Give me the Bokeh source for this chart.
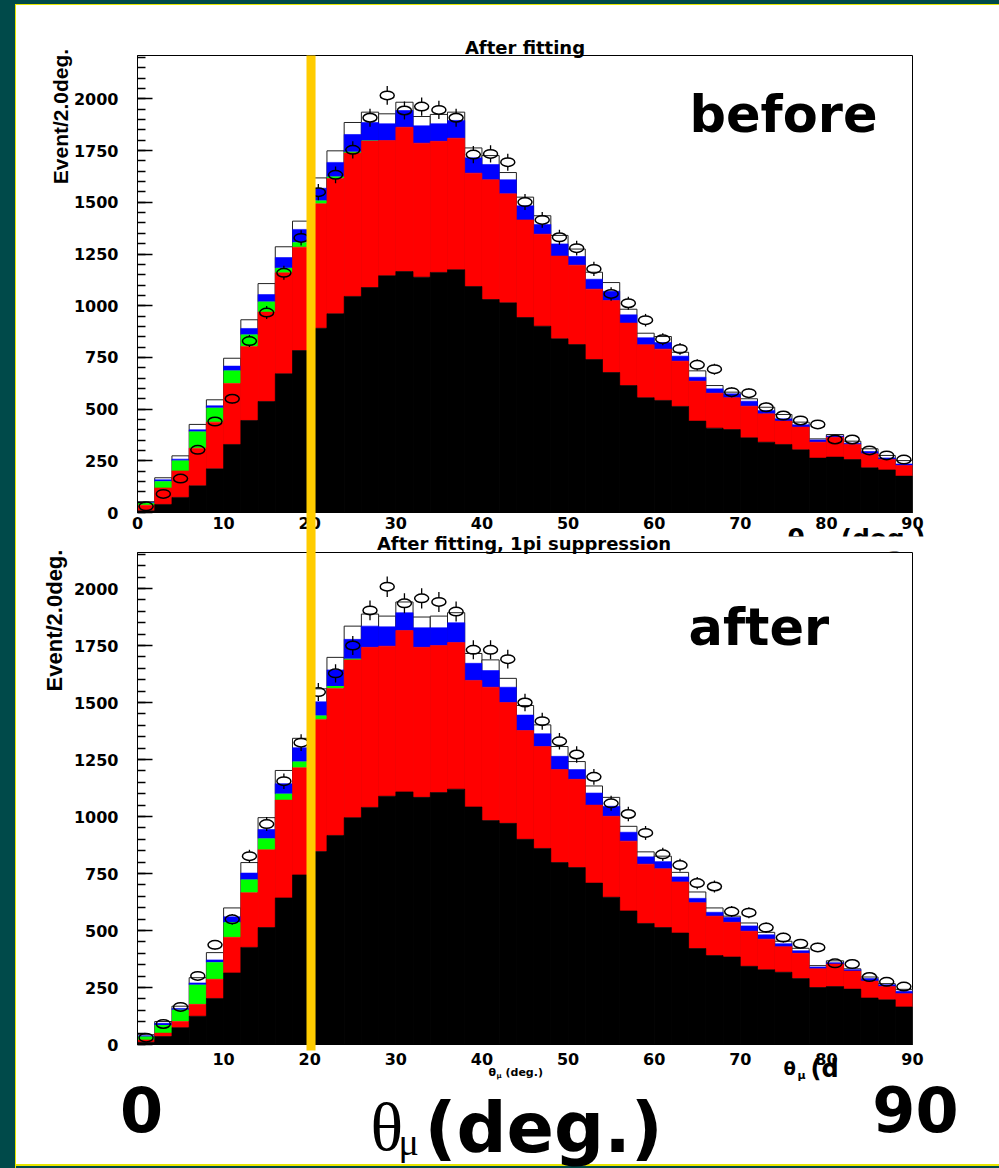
import numpy as np
from bokeh.plotting import figure
from bokeh.models import Label, BoxAnnotation, FixedTicker, Div, Range1d
from bokeh.layouts import column, row
from bokeh.embed import file_html
from bokeh.resources import INLINE

# ---------------- data (theta_mu histograms, 2 deg bins, 0..90 deg) ----------------
bin_lo = np.arange(0, 90, 2)
bin_hi = bin_lo + 2

# "before" panel: cumulative stack levels (black, +red, +green, +blue, total MC) and data
before_black = [8, 39, 73, 129, 211, 329, 445, 537, 671, 783, 891, 961, 1045, 1088, 1145, 1165, 1138, 1161, 1174, 1093,
                1030, 1014, 943, 901, 840, 812, 740, 677, 614, 555, 542, 513, 442, 408, 401, 361, 340, 329, 303, 263,
                268, 256, 216, 206, 176]
before_red = [35, 119, 201, 311, 437, 624, 803, 969, 1159, 1283, 1493, 1615, 1738, 1796, 1799, 1863, 1786, 1795, 1810, 1641,
              1609, 1541, 1415, 1346, 1240, 1196, 1080, 1025, 916, 811, 790, 732, 635, 577, 555, 514, 477, 442, 413, 340,
              364, 329, 284, 256, 227]
before_green = [47, 151, 251, 392, 506, 687, 861, 1020, 1183, 1307, 1509, 1625, 1744, 1799, 1799, 1863, 1786, 1795, 1810, 1641,
                1609, 1541, 1415, 1346, 1240, 1196, 1080, 1025, 916, 811, 790, 732, 635, 577, 555, 514, 477, 442, 413, 340,
                364, 329, 284, 256, 227]
before_blue = [49, 158, 258, 400, 516, 708, 890, 1054, 1233, 1369, 1568, 1693, 1828, 1886, 1880, 1944, 1870, 1880, 1896, 1715,
               1683, 1609, 1483, 1393, 1299, 1238, 1128, 1070, 956, 845, 822, 756, 654, 598, 574, 538, 493, 453, 424, 351,
               370, 335, 295, 264, 235]
before_total = [52, 168, 274, 426, 545, 746, 932, 1107, 1285, 1409, 1618, 1749, 1886, 1936, 1928, 1984, 1915, 1925, 1936, 1763,
                1726, 1644, 1525, 1435, 1340, 1274, 1162, 1112, 983, 867, 851, 775, 685, 614, 582, 550, 509, 474, 437, 356,
                377, 345, 308, 276, 251]
before_data = [30, 90, 164, 303, 440, 550, 829, 967, 1159, 1328, 1549, 1633, 1754, 1909, 2017, 1944, 1963, 1947, 1909, 1731,
               1734, 1694, 1501, 1415, 1331, 1278, 1178, 1057, 1012, 930, 838, 791, 714, 693, 582, 577, 509, 469, 445, 426,
               353, 353, 300, 276, 256]

# "after" panel (1pi suppression)
after_black = [10, 35, 74, 124, 202, 314, 426, 513, 643, 744, 846, 917, 995, 1040, 1089, 1108, 1084, 1105, 1120, 1042,
               982, 970, 900, 860, 798, 776, 708, 646, 586, 531, 513, 489, 421, 390, 384, 343, 328, 317, 289, 250,
               254, 243, 204, 196, 165]
after_red = [20, 50, 101, 176, 286, 470, 666, 854, 1072, 1214, 1426, 1562, 1687, 1742, 1747, 1816, 1742, 1750, 1763, 1597,
             1567, 1500, 1377, 1307, 1206, 1163, 1050, 1001, 892, 791, 771, 713, 622, 563, 536, 497, 462, 429, 400, 332,
             353, 322, 278, 254, 223]
after_green = [35, 86, 152, 262, 361, 536, 724, 904, 1100, 1241, 1443, 1572, 1692, 1742, 1747, 1816, 1742, 1750, 1763, 1597,
               1567, 1500, 1377, 1307, 1206, 1163, 1050, 1001, 892, 791, 771, 713, 622, 563, 536, 497, 462, 429, 400, 332,
               353, 322, 278, 254, 223]
after_blue = [38, 93, 158, 270, 371, 560, 752, 943, 1144, 1302, 1503, 1643, 1777, 1835, 1832, 1894, 1828, 1828, 1850, 1672,
              1640, 1567, 1445, 1363, 1264, 1206, 1103, 1045, 931, 823, 802, 735, 641, 580, 557, 520, 481, 442, 411, 340,
              359, 328, 289, 262, 234]
after_total = [43, 101, 168, 293, 403, 599, 798, 995, 1202, 1343, 1560, 1698, 1835, 1888, 1879, 1941, 1875, 1879, 1894, 1715,
               1687, 1606, 1487, 1402, 1307, 1241, 1134, 1084, 957, 845, 826, 755, 669, 599, 563, 533, 492, 453, 422, 346,
               367, 332, 296, 267, 242]
after_data = [30, 90, 165, 301, 437, 549, 826, 967, 1155, 1324, 1546, 1628, 1750, 1904, 2008, 1935, 1957, 1941, 1899, 1731,
              1731, 1690, 1500, 1418, 1330, 1272, 1174, 1058, 1011, 928, 834, 787, 708, 693, 583, 578, 513, 469, 442, 426,
              356, 353, 296, 275, 254]

y_ticks = [0, 250, 500, 750, 1000, 1250, 1500, 1750, 2000]
y_minor = list(range(0, 2201, 50))
x_ticks = [0, 10, 20, 30, 40, 50, 60, 70, 80, 90]
highlight_deg = (19.6, 20.65)

TEAL = "#004a4a"
YEL = "#e6e600"
ORANGE = "#ffcc00"
SANS = "DejaVu Sans"
LAB_FONT = "Liberation Sans"
SERIF = "Liberation Serif"
MARK_H = 8.5


def make_panel(height, ymax, borders, black, red, green, blue, total, data, x_std):
    left, right, top, bottom = borders
    p = figure(width=983, height=height, output_backend="svg", toolbar_location=None,
               x_range=Range1d(0, 90), y_range=Range1d(0, ymax), title=None,
               min_border_left=left, min_border_right=right, min_border_top=top,
               min_border_bottom=bottom, background_fill_color="white",
               border_fill_color="white", outline_line_color="black", outline_line_width=1)
    p.xgrid.visible = False
    p.ygrid.visible = False
    # stacked MC
    p.quad(left=bin_lo, right=bin_hi, bottom=0, top=total, fill_color="white",
           line_color="#222222", line_width=1)
    p.quad(left=bin_lo, right=bin_hi, bottom=green, top=blue, fill_color="#0000ff",
           line_color="#0000ff", line_width=0.6)
    p.quad(left=bin_lo, right=bin_hi, bottom=red, top=green, fill_color="#00ff00", line_color=None)
    p.quad(left=bin_lo, right=bin_hi, bottom=black, top=red, fill_color="#ff0000",
           line_color="#ff0000", line_width=0.6)
    p.quad(left=bin_lo, right=bin_hi, bottom=0, top=black, fill_color="black",
           line_color="black", line_width=0.6)
    # data points: error bars stop at the marker outline
    d = np.array(data, dtype=float)
    err = np.sqrt(d)
    ctr = (bin_lo + bin_hi) / 2
    gap = (MARK_H / 2) * ymax / (height - top - bottom)
    keep = err > gap
    p.segment(x0=ctr[keep], y0=d[keep] + gap, x1=ctr[keep], y1=d[keep] + err[keep],
              line_color="black", line_width=1.3)
    p.segment(x0=ctr[keep], y0=d[keep] - gap, x1=ctr[keep], y1=d[keep] - err[keep],
              line_color="black", line_width=1.3)
    p.ellipse(x=ctr, y=d, width=14, height=MARK_H, width_units="screen", height_units="screen",
              fill_alpha=0, line_color="black", line_width=1.5)
    # axes
    p.yaxis.ticker = FixedTicker(ticks=y_ticks, minor_ticks=y_minor)
    p.xaxis.ticker = FixedTicker(ticks=x_ticks, minor_ticks=[])
    for ax in (p.xaxis[0], p.yaxis[0]):
        ax.axis_line_color = "black"
        ax.major_tick_out = 0
        ax.minor_tick_out = 0
        ax.major_label_text_font = SANS
        ax.major_label_text_font_style = "bold"
        ax.major_label_text_font_size = "16px"
        ax.major_label_text_color = "black"
    p.yaxis.major_tick_in = 15
    p.yaxis.minor_tick_in = 8
    p.yaxis.major_tick_line_width = 1.5
    p.yaxis.minor_tick_line_width = 1.5
    p.yaxis.major_label_standoff = 19
    p.xaxis.major_tick_in = 0
    p.xaxis.minor_tick_in = 0
    p.xaxis.major_label_standoff = x_std
    return p


# ---------------- histogram panels ----------------
top = make_panel(531, 2210, (121, 86, 50, 24), before_black, before_red, before_green, before_blue,
                 before_total, before_data, 4)
bot = make_panel(628, 2158, (120, 87, 16, 120), after_black, after_red, after_green, after_blue,
                 after_total, after_data, 8)
bot.xaxis.major_label_overrides = {0: ""}

# ---------------- transparent overlay for slide texts (page pixel coordinates) ----------------
ov = figure(width=999, height=1168, output_backend="svg", toolbar_location=None,
            x_range=Range1d(0, 999), y_range=Range1d(1168, 0), title=None,
            x_axis_location=None, y_axis_location=None, min_border=0,
            background_fill_color=None, border_fill_color=None, outline_line_color=None,
            styles={"position": "absolute", "top": "0px", "left": "0px"})
ov.grid.visible = False
ov.extra_x_ranges = {"deg": Range1d((0 - 137) / 8.6222, (999 - 137) / 8.6222)}


def lab(x, base, text, size, font=SANS, style="bold", align="left", angle=0):
    """place text so that its alphabetic baseline sits at `base` (vertical middle anchoring)"""
    y = base - 0.346 * size
    ov.add_layout(Label(x=x, y=y, text=text, text_font=font, text_font_size=f"{size}px",
                        text_font_style=style, text_align=align, text_baseline="middle",
                        text_color="black", angle=angle))


def vlab(x, y, text, size):
    ov.add_layout(Label(x=x, y=y, text=text, text_font=LAB_FONT, text_font_size=f"{size}px",
                        text_font_style="bold", text_align="center", text_baseline="middle",
                        text_color="black", angle=np.pi / 2))


# top panel texts
lab(524.5, 53, "After fitting", 18, align="center")
lab(689, 132, "before", 51)
vlab(60, 116, "Event/2.0deg.", 21)
lab(787, 547, "θ", 25)
lab(840, 547, "(deg.)", 25)
# the lower slide picture hides the rest of the upper x title
ov.add_layout(BoxAnnotation(left=770, right=945, top=536, bottom=551, fill_color="white",
                            fill_alpha=1, line_color=None))
# bottom panel texts
lab(523.5, 549, "After fitting, 1pi suppression", 18, align="center")
lab(688, 645, "after", 51)
vlab(54, 620, "Event/2.0deg.", 22)
lab(783, 1074, "θ", 18)
lab(797, 1079, "μ", 11)
lab(810, 1077, "(d", 24)
lab(488, 1076, "θ", 11)
lab(496, 1078, "μ", 7)
lab(505, 1076, "(deg.)", 11)
lab(141, 1130, "0", 62, align="center")
lab(915, 1130, "90", 62, align="center")
lab(370, 1150, "θ", 68, font=SERIF, style="normal")
lab(398, 1155, "μ", 38, font=SERIF, style="normal")
lab(424, 1152, "(deg.)", 70)

# orange highlight line at 20 deg running through both pictures
ov.quad(left=highlight_deg[0], right=highlight_deg[1], top=55, bottom=1050, x_range_name="deg",
        fill_color=ORANGE, line_color=None)


def box(w, h, color):
    return Div(width=w, height=h, margin=0, styles={"background-color": color})


layout = column(
    box(999, 4, TEAL),
    row(box(15, 1164, TEAL), box(1, 1164, YEL),
        column(box(983, 1, YEL), top, bot, box(983, 2, YEL), box(983, 2, TEAL), spacing=0),
        spacing=0),
    ov,
    spacing=0,
)

open("out.html", "w").write(file_html(layout, INLINE))
